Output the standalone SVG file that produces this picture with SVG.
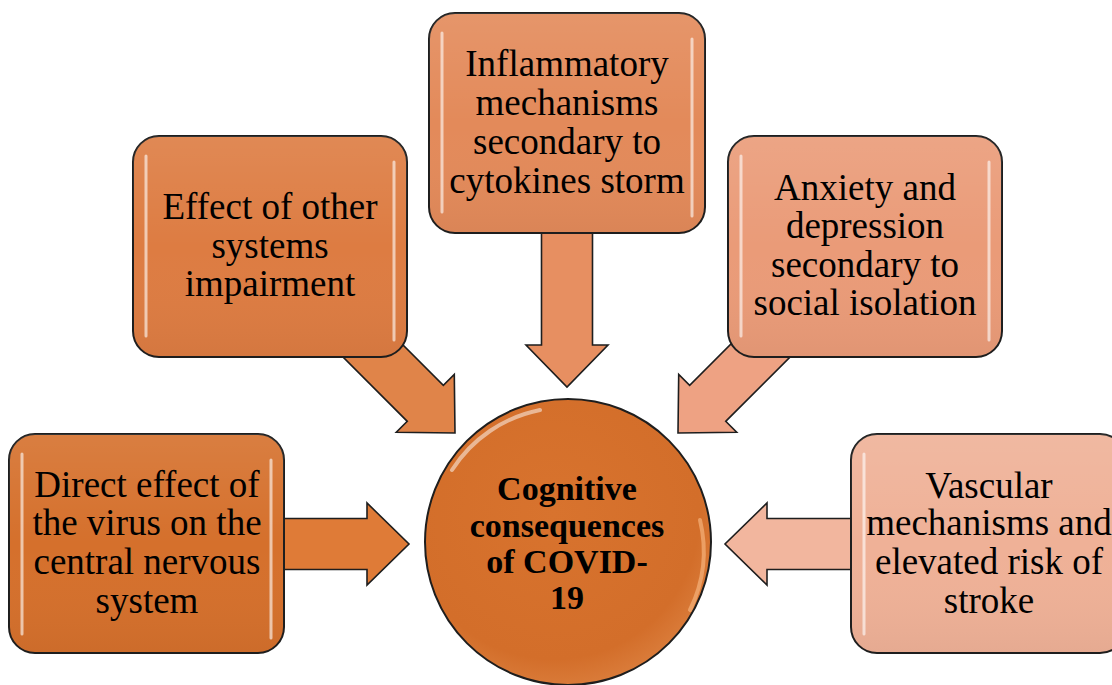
<svg xmlns="http://www.w3.org/2000/svg" width="1112" height="685" viewBox="0 0 1112 685">
<defs>
<style>
.box{stroke:#1e1e1e;stroke-width:2}
.arr{stroke:#1e1e1e;stroke-width:1.6;stroke-linejoin:miter}
.hl{stroke:#fff;stroke-opacity:0.6;stroke-width:3;stroke-linecap:round;fill:none}
.t{font-family:"Liberation Serif","Times New Roman",serif;font-size:37px;fill:#000;text-anchor:middle}
.tb{font-family:"Liberation Serif","Times New Roman",serif;font-size:34px;font-weight:bold;fill:#000;text-anchor:middle}
</style>
<linearGradient id="shade" x1="0" y1="0" x2="0" y2="1">
<stop offset="0" stop-color="#fff" stop-opacity="0.1"/>
<stop offset="0.5" stop-color="#fff" stop-opacity="0"/>
<stop offset="1" stop-color="#000" stop-opacity="0.04"/>
</linearGradient>
<radialGradient id="cg" cx="0.45" cy="0.4" r="0.6">
<stop offset="0" stop-color="#d8732e"/>
<stop offset="0.85" stop-color="#d36e2a"/>
<stop offset="1" stop-color="#d97a38"/>
</radialGradient>
<polygon id="arrow" points="-170,-25.5 -42,-25.5 -42,-41 0,0 -42,41 -42,25.5 -170,25.5"/>
</defs>
<rect width="1112" height="685" fill="#fff"/>

<g id="connectors">
<use href="#arrow" class="arr" fill="#df7b37" transform="translate(409,544)"/>
<use href="#arrow" class="arr" fill="#e08449" transform="translate(455,433) rotate(45)"/>
<use href="#arrow" class="arr" fill="#e78f61" transform="translate(567,387) rotate(90)"/>
<use href="#arrow" class="arr" fill="#eea283" transform="translate(678,433) rotate(135)"/>
<use href="#arrow" class="arr" fill="#f2b69e" transform="translate(725,544) rotate(180)"/>
</g>

<g id="node-direct">
<rect class="box" x="9" y="434" width="275" height="219" rx="26" fill="#d5702c"/>
<rect x="9" y="434" width="275" height="219" rx="26" fill="url(#shade)"/>
<line class="hl" x1="22" y1="454" x2="22" y2="634"/>
<line class="hl" x1="271" y1="460" x2="271" y2="638"/>
<text class="t" x="147" y="497">Direct effect of</text>
<text class="t" x="147" y="535">the virus on the</text>
<text class="t" x="147" y="574">central nervous</text>
<text class="t" x="147" y="613">system</text>
</g>

<g id="node-other">
<rect class="box" x="133" y="136" width="274" height="221" rx="26" fill="#dd7c42"/>
<rect x="133" y="136" width="274" height="221" rx="26" fill="url(#shade)"/>
<line class="hl" x1="146" y1="156" x2="146" y2="336"/>
<line class="hl" x1="394" y1="162" x2="394" y2="340"/>
<text class="t" x="270" y="219">Effect of other</text>
<text class="t" x="270" y="258">systems</text>
<text class="t" x="270" y="296">impairment</text>
</g>

<g id="node-inflammatory">
<rect class="box" x="429" y="13" width="276" height="220" rx="26" fill="#e38a5a"/>
<rect x="429" y="13" width="276" height="220" rx="26" fill="url(#shade)"/>
<line class="hl" x1="442" y1="33" x2="442" y2="212"/>
<line class="hl" x1="692" y1="39" x2="692" y2="216"/>
<text class="t" x="567" y="76">Inflammatory</text>
<text class="t" x="567" y="115">mechanisms</text>
<text class="t" x="567" y="154">secondary to</text>
<text class="t" x="567" y="193">cytokines storm</text>
</g>

<g id="node-anxiety">
<rect class="box" x="728" y="136" width="274" height="221" rx="26" fill="#ea9b78"/>
<rect x="728" y="136" width="274" height="221" rx="26" fill="url(#shade)"/>
<line class="hl" x1="741" y1="156" x2="741" y2="336"/>
<line class="hl" x1="989" y1="162" x2="989" y2="340"/>
<text class="t" x="865" y="200">Anxiety and</text>
<text class="t" x="865" y="238">depression</text>
<text class="t" x="865" y="277">secondary to</text>
<text class="t" x="865" y="315">social isolation</text>
</g>

<g id="node-vascular">
<rect class="box" x="851" y="434" width="275" height="219" rx="26" fill="#efb197"/>
<rect x="851" y="434" width="275" height="219" rx="26" fill="url(#shade)"/>
<line class="hl" x1="864" y1="454" x2="864" y2="634"/>
<text class="t" x="989" y="498">Vascular</text>
<text class="t" x="989" y="535">mechanisms and</text>
<text class="t" x="989" y="574">elevated risk of</text>
<text class="t" x="989" y="613">stroke</text>
</g>

<g id="node-center">
<circle class="box" cx="568" cy="542" r="143" fill="url(#cg)"/>
<path d="M452,470 A136,136 0 0 1 540,410" fill="none" stroke="#fff" stroke-opacity="0.5" stroke-width="4" stroke-linecap="round"/>
<path d="M700,520 A134,134 0 0 1 690,610" fill="none" stroke="#f5b27a" stroke-opacity="0.7" stroke-width="4" stroke-linecap="round"/>
<text class="tb" x="567" y="500">Cognitive</text>
<text class="tb" x="567" y="537">consequences</text>
<text class="tb" x="567" y="573">of COVID-</text>
<text class="tb" x="567" y="609">19</text>
</g>
</svg>
